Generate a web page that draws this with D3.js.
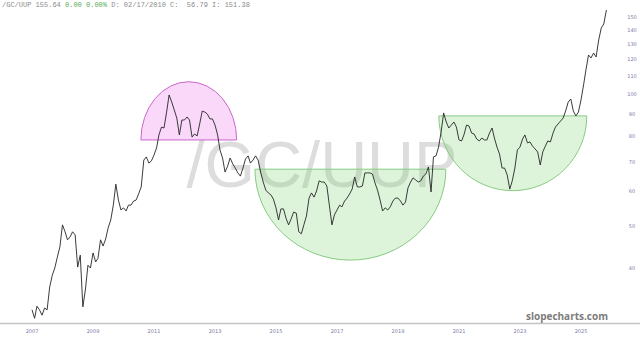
<!DOCTYPE html>
<html>
<head>
<meta charset="utf-8">
<script src="https://cdn.jsdelivr.net/npm/d3@7"></script>
<style>
  html, body { margin: 0; padding: 0; background: #fff; }
  svg { display: block; }
</style>
</head>
<body>
<svg id="chart" width="640" height="339"></svg>
<script>
// ---------- DATA ----------
const symbol = "/GC/UUP";
const startMonth = new Date(2007, 0, 1);
const values = [
  32.1, 30.7, 32.7, 32.1, 31.2, 32.4, 32.1, 36.2, 38.5, 40.0, 42.4, 44.7,
  50.2, 48.4, 46.4, 47.1, 48.4, 47.6, 40.2, 42.8, 32.6, 35.6, 40.6, 40.0,
  43.3, 41.3, 42.1, 46.4, 44.9, 46.6, 49.4, 51.5, 55.7, 62.2, 57.2, 54.3,
  54.9, 54.0, 55.7, 55.7, 56.9, 57.2, 59.1, 61.3, 70.6, 71.8, 69.5, 70.3,
  72.5, 75.3, 80.6, 84.0, 83.6, 90.9, 99.5, 95.9, 91.9, 88.1, 80.6, 87.2,
  87.2, 88.6, 87.2, 79.7, 81.0, 80.2, 85.4, 91.4, 90.9, 90.0, 87.7, 87.7,
  84.9, 80.6, 74.5, 71.4, 66.3, 68.4, 71.4, 69.2, 67.7, 66.0, 64.9, 67.7,
  71.0, 72.2, 69.5, 70.6, 72.2, 70.6, 66.3, 62.9, 60.3, 59.4, 58.8, 57.5,
  54.9, 51.5, 54.6, 54.6, 52.0, 50.2, 51.8, 53.7, 53.4, 48.4, 47.9, 50.2,
  52.6, 57.8, 59.4, 58.1, 60.0, 63.3, 62.9, 62.9, 61.6, 55.7, 50.2, 52.9,
  54.3, 55.7, 55.2, 56.9, 57.8, 59.1, 60.6, 64.6, 61.3, 61.3, 61.6, 66.0,
  66.0, 66.0, 65.6, 62.6, 60.3, 57.2, 54.0, 54.9, 54.3, 55.2, 56.9, 57.8,
  57.8, 56.9, 55.7, 56.6, 61.0, 62.9, 64.3, 63.6, 62.9, 63.3, 64.9, 65.6,
  68.1, 59.7, 71.8, 72.2, 75.6, 81.9, 90.5, 86.3, 83.6, 84.9, 86.3, 84.0,
  78.5, 78.1, 80.6, 84.9, 84.5, 81.4, 81.0, 78.9, 78.1, 79.3, 78.5, 78.5,
  81.4, 83.6, 79.3, 75.6, 72.9, 67.7, 67.7, 65.3, 60.6, 63.3, 67.7, 74.5,
  75.6, 78.9, 80.6, 77.3, 77.7, 76.0, 74.9, 73.7, 68.8, 73.7, 76.0, 78.1,
  77.7, 81.4, 84.0, 85.4, 86.7, 88.1, 91.4, 95.9, 97.4, 91.4, 89.1, 90.9,
  96.9, 104.9, 113.5, 122.8, 120.9, 124.1, 121.5, 132.9, 141.6, 144.6, 155.6
];
const dates = d3.timeMonth.range(startMonth, new Date(2025, 11, 1));

const yTicks = [40, 50, 60, 70, 80, 90, 100, 110, 120, 130, 140, 150];
const xTickYears = [2007, 2009, 2011, 2013, 2015, 2017, 2019, 2021, 2023, 2025];

// Annotation shapes: [startYear, endYear, flatValue, extremeValue]
const domeShape = [2010.57, 2013.71, 78.5, 106.7];
const bowlShapes = [
  [2014.31, 2020.57, 67.3, 41.7],
  [2020.34, 2025.19, 89.1, 60.1]
];

const headerParts = [
  { t: "/GC/UUP 155.64 ", c: "#8a8a8a" },
  { t: "0.00 0.00%", c: "#55aa55" },
  { t: " D: 02/17/2010 C:  56.79 I: 151.38", c: "#8a8a8a" }
];

// ---------- CHART ----------
const svg = d3.select("#chart");
const W = 640, H = 339;

const x = d3.scaleTime()
  .domain([new Date(2007, 0, 1), new Date(2025, 0, 1)])
  .range([32, 581]);
const y = d3.scaleLog().domain([40, 150]).range([268, 17]);

const yearDate = yr => {
  const y0 = Math.floor(yr);
  const a = new Date(y0, 0, 1), b = new Date(y0 + 1, 0, 1);
  return new Date(+a + (yr - y0) * (b - a));
};

// watermark
svg.append("text")
  .attr("x", 322).attr("y", 187)
  .attr("text-anchor", "middle")
  .attr("font-family", "Liberation Sans, Arial, sans-serif")
  .attr("font-size", 65)
  .attr("fill", "#dddddd")
  .text(symbol);

// shapes
function arcPath(s, sweep) {
  const x0 = x(yearDate(s[0])), x1 = x(yearDate(s[1]));
  const yf = y(s[2]), ye = y(s[3]);
  const rx = (x1 - x0) / 2, ry = Math.abs(ye - yf);
  return `M${x0},${yf} A${rx},${ry} 0 0,${sweep} ${x1},${yf} Z`;
}
svg.append("path")
  .attr("d", arcPath(domeShape, 1))
  .attr("fill", "rgba(232,110,232,0.27)")
  .attr("stroke", "#cc66cc").attr("stroke-width", 1);
svg.selectAll("path.bowl").data(bowlShapes).enter().append("path")
  .attr("class", "bowl")
  .attr("d", d => arcPath(d, 0))
  .attr("fill", "rgba(120,210,110,0.25)")
  .attr("stroke", "#86cc80").attr("stroke-width", 1);

// x axis line
svg.append("line")
  .attr("x1", 0).attr("x2", W).attr("y1", 323.5).attr("y2", 323.5)
  .attr("stroke", "#c4c4c4").attr("stroke-width", 1.6);

// price line
const line = d3.line()
  .x((d, i) => x(dates[i]))
  .y(d => y(d));
svg.append("path")
  .datum(values)
  .attr("d", line)
  .attr("fill", "none")
  .attr("stroke", "#262626")
  .attr("stroke-width", 0.9)
  .attr("stroke-linejoin", "round");

// y tick labels
svg.selectAll("text.ytick").data(yTicks).enter().append("text")
  .attr("class", "ytick")
  .attr("x", 632).attr("y", d => y(d) + 2)
  .attr("text-anchor", "middle")
  .attr("font-family", "DejaVu Sans, sans-serif")
  .attr("font-size", 5)
  .attr("fill", "#7a7aa6")
  .text(d => d);

// x tick labels
svg.selectAll("text.xtick").data(xTickYears).enter().append("text")
  .attr("class", "xtick")
  .attr("x", d => x(new Date(d, 0, 1)))
  .attr("y", 333)
  .attr("text-anchor", "middle")
  .attr("font-family", "DejaVu Sans, sans-serif")
  .attr("font-size", 5)
  .attr("fill", "#7a7aa6")
  .text(d => d);

// header
const hdr = svg.append("text")
  .attr("x", 2).attr("y", 7)
  .attr("font-family", "Liberation Mono, DejaVu Sans Mono, monospace")
  .attr("font-size", 7);
hdr.selectAll("tspan").data(headerParts).enter().append("tspan")
  .attr("fill", d => d.c)
  .attr("xml:space", "preserve")
  .style("white-space", "pre")
  .text(d => d.t);

// brand
svg.append("text")
  .attr("x", 608).attr("y", 320)
  .attr("text-anchor", "end")
  .attr("font-family", "Open Sans, DejaVu Sans, sans-serif")
  .attr("font-weight", "bold")
  .attr("font-size", 10)
  .attr("fill", "#7c7c7c")
  .text("slopecharts.com");
</script>
</body>
</html>
